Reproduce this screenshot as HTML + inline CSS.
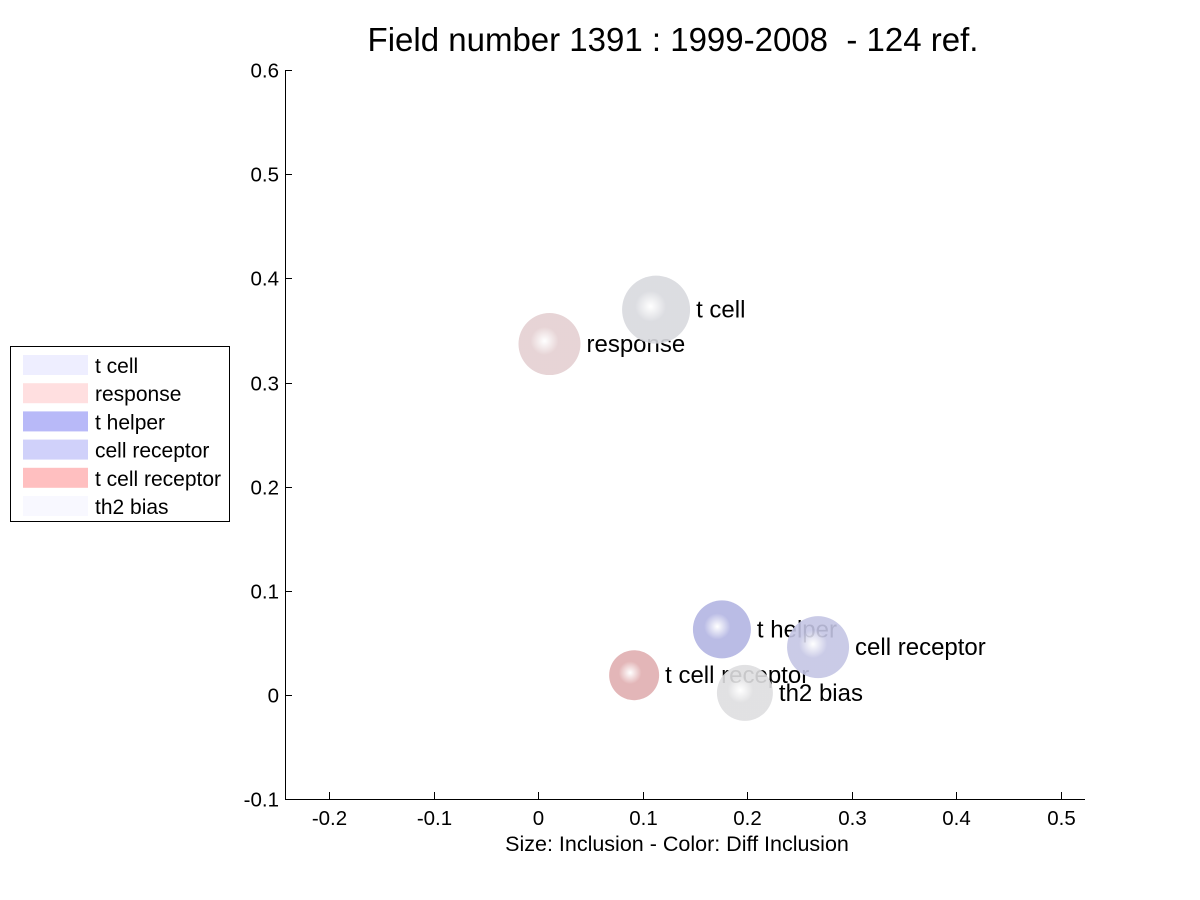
<!DOCTYPE html>
<html><head><meta charset="utf-8"><style>
body{margin:0;background:#fff;}
svg{display:block;font-family:"Liberation Sans",Arial,sans-serif;}
</style></head><body>
<svg id="chart" width="1200" height="900" xml:space="preserve">
<defs></defs>
<text x="673" y="51" font-size="33" text-anchor="middle" style="white-space:pre">Field number 1391 : 1999-2008  - 124 ref.</text>
<text x="677" y="851" font-size="21.5" text-anchor="middle">Size: Inclusion - Color: Diff Inclusion</text>
<g id="axes"></g><g id="labels"></g><g id="marks"></g>
<g>
<rect x="10.5" y="346.5" width="219" height="175" fill="#fff" stroke="#000"/>
<g id="legend"></g></g>
</svg>
<script>
const categories=["t cell","response","t helper","cell receptor","t cell receptor","th2 bias"];
const xValues=[0.113,0.011,0.176,0.268,0.092,0.198];
const yValues=[0.370,0.337,0.063,0.046,0.019,0.002];
const sizes=[34,31,29,31,25,28];
const sphereColors=["#d8d9de","#e4cfd1","#b2b4e2","#c4c5e4","#e0aeb0","#dedee0"];
const legendColors=["#eeeeff","#ffdfe0","#b8b9f8","#d0d1fa","#ffbfc0","#f8f8ff"];
const xTicks=[-0.2,-0.1,0,0.1,0.2,0.3,0.4,0.5];
const yTicks=[-0.1,0,0.1,0.2,0.3,0.4,0.5,0.6];
const NS="http://www.w3.org/2000/svg";
const X=v=>538+(v)*1045, Y=v=>695-v*1041.4;
function el(t,a,p){const e=document.createElementNS(NS,t);for(const k in a)e.setAttribute(k,a[k]);p.appendChild(e);return e;}
const ax=document.getElementById('axes');
let l=el('line',{x1:285.5,y1:70,x2:285.5,y2:799.5,stroke:'#000'},ax);


l=el('line',{x1:285,y1:799.5,x2:1085,y2:799.5,stroke:'#000'},ax);


xTicks.forEach(v=>{const x=Math.round(X(v))+0.5;
el('line',{x1:x,y1:799,x2:x,y2:792,stroke:'#000'},ax);
const t=el('text',{x:x,y:825,'font-size':20.5,'text-anchor':'middle'},ax);t.textContent=String(v);

});
yTicks.forEach(v=>{const y=Math.round(Y(v))+0.5;
el('line',{x1:285,y1:y,x2:292,y2:y,stroke:'#000'},ax);
const t=el('text',{x:279,y:y+7,'font-size':20.5,'text-anchor':'end'},ax);t.textContent=String(v);

});
const defs=document.querySelector('defs');
const lg=document.getElementById('labels'),mk=document.getElementById('marks');
categories.forEach((c,i)=>{
 const g=el('radialGradient',{id:'g'+i,cx:'0.42',cy:'0.45',r:'0.65'},defs);
 el('stop',{offset:'0','stop-color':'#ffffff'},g);
 el('stop',{offset:'0.35','stop-color':sphereColors[i]},g);
 el('stop',{offset:'1','stop-color':sphereColors[i]},g);
 const cx=X(xValues[i]),cy=Y(yValues[i]);
 const t=el('text',{x:cx+sizes[i]+6,y:cy+8,'font-size':24},lg);t.textContent=c;
 
 
 const s=el('circle',{cx:cx,cy:cy,r:sizes[i],fill:'url(#g'+i+')',opacity:0.9},mk);
 
 
});
const lgd=document.getElementById('legend');
categories.forEach((c,i)=>{const y=355+i*28.2;
 const r=el('rect',{x:23,y:y,width:65,height:20,fill:legendColors[i]},lgd);
 
 
 const t=el('text',{x:95,y:y+18,'font-size':21},lgd);t.textContent=c;
 
 });
</script>
</body></html>
